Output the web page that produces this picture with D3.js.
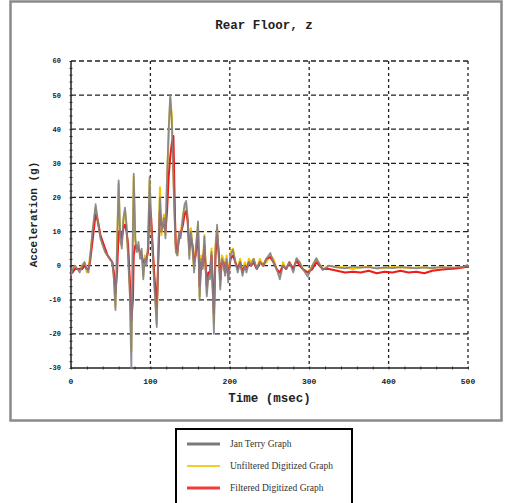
<!DOCTYPE html>
<html>
<head>
<meta charset="utf-8">
<script src="https://cdn.jsdelivr.net/npm/d3@7"></script>
<style>
  body { margin: 0; background: #fff; }
  svg { display: block; }
</style>
</head>
<body>
<div id="chart"></div>
<script>
// time (msec)
var times = [0,2,5,8,11,14,17,20,22,24,
  27,31,34,37,40,43,46,49,52,54,
  56,58,60,62,64,66,68,70,72,74,
  76,78,79,81,83,85,87,89,91,93,
  95,97,99,101,103,105,108,110,112,114,
  117,119,121,123,125,127,129,131,132,134,
  136,138,141,143,145,147,149,151,153,155,
  157,160,162,164,166,168,171,173,175,177,
  180,182,184,186,188,190,192,194,196,198,
  201,204,207,210,213,216,219,221,224,227,
  230,234,238,242,246,251,255,259,263,267,
  271,275,280,284,288,292,298,304,309,317,
  325,335,345,355,365,375,385,395,405,415,
  425,435,445,455,465,475,485,495,500];

// acceleration (g)
var terryVals = [-3,-1,0,-1,-2,0,1,-1,-2,2,
  10,18,13,8,6,4,3,2,1,-4,
  -13,5,25,8,5,14,17,12,2,-8,
  -30,10,27,8,4,7,2,5,-4,2,
  0,6,26,12,3,-6,-18,4,20,10,
  14,8,26,40,50,42,25,10,4,3,
  10,8,14,18,19,14,2,10,6,-2,
  4,13,-10,2,-1,8.5,-9,-3,-4,4,
  -20,5,12,3,-7,2,1,-3,2,-5,
  3,4.6,1,-2,1,-3,0,-2,1,0,
  2,-1,1,0,2,3.7,1,-1,-4,0,
  -1,1,-2,2.2,1,-1,-3.2,0,2.2,-1.3,
  0,-0.5,-0.8,-0.3,-0.6,-0.4,-0.8,-0.5,-0.7,-0.4,
  -0.6,-0.8,-0.5,-0.7,-0.4,-0.6,-0.5,-0.3,0.3];

var unfilteredVals = [-2,-2,0,-1,-1,0,1,-2,-1,3,
  9,17,12,9,6,4,3,2,1,-3,
  -12,6,24,7,6,13,16,11,3,-6,
  -25,12,26,7,5,6,3,4,-3,3,
  1,5,25,11,4,-5,-17,5,23,9,
  15,9,25,38,49,44,26,12,5,3,
  9,9,15,17,18,13,3,11,5,-1,
  5,12,-9,3,0,9,-8,-2,-3,5,
  -17,6,11,4,-6,3,2,-2,3,-4,
  4,5,1,-1,2,-2,1,-1,2,1,
  2,-1,2,0,1,3,2,-1,-3,1,
  -1,1,-1,2,1,-1,-2,0,2,-1,
  0,-0.5,-0.5,-1,-0.5,-0.3,-0.8,-0.6,-0.5,-0.4,
  -0.7,-0.6,-0.5,-0.8,-0.4,-0.6,-0.6,-0.4,0];

var filteredVals = [-2,-2,-1,-1,-1,-1,0,-1,-1,1,
  7,15,13,9,7,5,3,2,1,-2,
  -8,-2,10,10,8,11,12,10,6,-4,
  -16,-10,3,6,5,5,4,3,1,1,
  2,4,18,14,5,-3,-12,2,16,12,
  12,10,16,26,32,36,38,14,6,4,
  8,9,12,15,16,13,5,8,6,1,
  3,10,-6,1,0,6,-6,-2,-2,3,
  -14,3,9,4,-4,1,1,-2,1,-3,
  2,3,1,-1,1,-2,0,-1,1,0,
  1,-1,1,0,2,2.5,1,-1,-2,0,
  -1,1,-1,1.5,0,-1,-2,-1,1,-1,
  -1,-1.5,-2,-1.8,-2,-1.5,-2.2,-1.8,-2,-1.5,
  -2,-1.8,-2.2,-1.5,-1.2,-1,-0.8,-0.5,-0.3];

var xTicks = [0,100,200,300,400,500];
var yTicks = [-30,-20,-10,0,10,20,30,40,50,60];
var seriesNames = ["Jan Terry Graph","Unfiltered Digitized Graph","Filtered Digitized Graph"];
var seriesColors = ["#55575c","#f5c400","#f01a1a"];

function drawChart(placement, width, height){
    var margins = {top: 61, right: 39, bottom: 135, left: 71};
    var mono = "'Liberation Mono', 'DejaVu Sans Mono', monospace";

    var svg = d3.select(placement).append("svg")
        .attr("width", width).attr("height", height)
        .attr("viewBox", [0, 0, width, height]);

    // outer frame
    svg.append("rect")
        .attr("x", 10.5).attr("y", 1.5)
        .attr("width", 491).attr("height", 419)
        .attr("fill", "#fff")
        .attr("stroke", "#8a8a8a")
        .attr("stroke-width", 2.5);

    var x = d3.scaleLinear()
        .domain([0, 500])
        .range([margins.left, width - margins.right]);

    var y = d3.scaleLinear()
        .domain([-30, 60])
        .range([height - margins.bottom, margins.top]);

    // grid
    svg.append("g").attr("class", "h-grid")
        .selectAll("line")
        .data(yTicks.filter(d => d > -30))
        .enter().append("line")
        .attr("x1", x(0)).attr("x2", x(500))
        .attr("y1", d => y(d)).attr("y2", d => y(d))
        .attr("stroke", "#222")
        .attr("stroke-width", 1.3)
        .attr("stroke-dasharray", "5,3");

    svg.append("g").attr("class", "v-grid")
        .selectAll("line")
        .data(xTicks.filter(d => d > 0))
        .enter().append("line")
        .attr("x1", d => x(d)).attr("x2", d => x(d))
        .attr("y1", y(60)).attr("y2", y(-30))
        .attr("stroke", "#222")
        .attr("stroke-width", 1.3)
        .attr("stroke-dasharray", "3,3");

    // axes with minor ticks
    var yAxis = d3.axisLeft(y).tickValues(d3.range(-30, 61, 2)).tickSize(3).tickFormat("");
    svg.append("g")
        .attr("class", "y-axis")
        .attr("transform", "translate(" + (x(0) + 1.5) + ",0)")
        .call(yAxis)
        .call(g => g.select(".domain").remove())
        .call(g => g.selectAll("line").attr("stroke", "#333"));

    var xAxis = d3.axisTop(x).tickValues(d3.range(0, 501, 20)).tickSize(3).tickFormat("");
    svg.append("g")
        .attr("class", "x-axis")
        .attr("transform", "translate(0," + (y(-30) + 1.5) + ")")
        .call(xAxis)
        .call(g => g.select(".domain").remove())
        .call(g => g.selectAll("line").attr("stroke", "#333"));

    svg.append("line")
        .attr("x1", x(0)).attr("x2", x(0))
        .attr("y1", y(60)).attr("y2", y(-30))
        .attr("stroke", "#222").attr("stroke-width", 1.5);
    svg.append("line")
        .attr("x1", x(0)).attr("x2", x(500))
        .attr("y1", y(-30)).attr("y2", y(-30))
        .attr("stroke", "#222").attr("stroke-width", 1.5);

    // tick labels
    svg.append("g").selectAll("text")
        .data(yTicks)
        .enter().append("text")
        .attr("x", x(0) - 10)
        .attr("y", d => y(d))
        .attr("dy", "0.35em")
        .attr("text-anchor", "end")
        .attr("font-family", mono)
        .attr("font-weight", "bold")
        .attr("font-size", "7px")
        .attr("fill", "#222")
        .text(d => d);

    svg.append("g").selectAll("text")
        .data(xTicks)
        .enter().append("text")
        .attr("x", d => x(d))
        .attr("y", y(-30) + 16)
        .attr("text-anchor", "middle")
        .attr("font-family", mono)
        .attr("font-weight", "bold")
        .attr("font-size", "8px")
        .attr("fill", "#222")
        .text(d => d);

    // titles
    svg.append("text")
        .attr("x", 264).attr("y", 29)
        .attr("text-anchor", "middle")
        .attr("font-family", mono)
        .attr("font-weight", "bold")
        .attr("font-size", "12.5px")
        .attr("fill", "#222")
        .text("Rear Floor, z");

    svg.append("text")
        .attr("transform", "translate(37," + y(15) + ") rotate(-90)")
        .attr("text-anchor", "middle")
        .attr("font-family", mono)
        .attr("font-weight", "bold")
        .attr("font-size", "11px")
        .attr("fill", "#222")
        .text("Acceleration (g)");

    svg.append("text")
        .attr("x", x(250)).attr("y", 402)
        .attr("text-anchor", "middle")
        .attr("font-family", mono)
        .attr("font-weight", "bold")
        .attr("font-size", "12.5px")
        .attr("fill", "#222")
        .text("Time (msec)");

    // series
    var series = [terryVals, unfilteredVals, filteredVals].map(function(vals, i){
        return {
            name: seriesNames[i],
            color: seriesColors[i],
            values: times.map(function(t, j){ return {t: t, v: vals[j]}; })
        };
    });

    var line = d3.line()
        .x(d => x(d.t))
        .y(d => y(d.v));

    var drawOrder = [1, 2, 0];
    svg.append("g").attr("class", "lines")
        .selectAll("path")
        .data(drawOrder.map(i => series[i]))
        .enter().append("path")
        .attr("d", d => line(d.values))
        .attr("fill", "none")
        .attr("stroke", d => d.name === seriesNames[0] ? "#80838c" : d.color)
        .attr("stroke-width", d => d.name === seriesNames[0] ? 1.8 : 2)
        .attr("stroke-opacity", d => d.name === seriesNames[0] ? 0.9 : 1)
        .attr("stroke-linejoin", "round");

    // legend
    var legendBox = svg.append("g").attr("class", "legend");
    legendBox.append("rect")
        .attr("x", 176).attr("y", 429)
        .attr("width", 176).attr("height", 80)
        .attr("fill", "#fff")
        .attr("stroke", "#000")
        .attr("stroke-width", 2);

    var legend = legendBox.selectAll(".item")
        .data(series)
        .enter().append("g")
        .attr("class", "item")
        .attr("transform", (d, i) => "translate(0," + (444 + i * 22) + ")");

    legend.append("line")
        .attr("x1", 187).attr("x2", 220)
        .attr("y1", 0).attr("y2", 0)
        .attr("stroke", d => d.color)
        .attr("stroke-width", (d, i) => i === 1 ? 2 : 3)
        .attr("stroke-opacity", (d, i) => i === 0 ? 0.8 : 0.85);

    legend.append("text")
        .attr("x", 230).attr("y", 0)
        .attr("dy", "0.35em")
        .attr("font-family", "'Liberation Serif', 'DejaVu Serif', serif")
        .attr("font-size", "9.5px")
        .attr("fill", "#333")
        .text(d => d.name);
}

drawChart("#chart", 507, 503);
</script>
</body>
</html>
